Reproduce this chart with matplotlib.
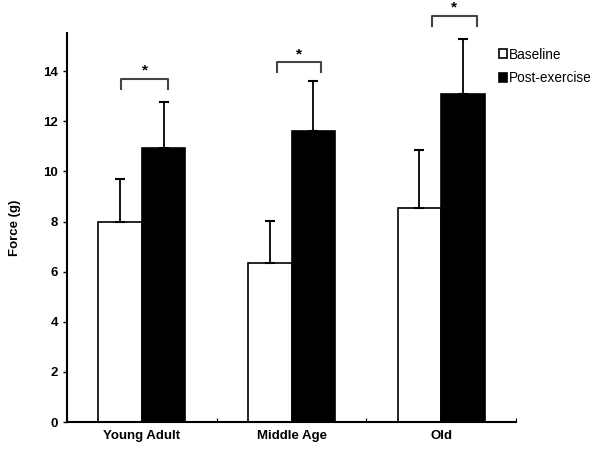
import matplotlib.pyplot as plt
import numpy as np

plt.rcParams['font.family'] = ['Liberation Sans', 'DejaVu Sans']

# data
groups = ['Young Adult', 'Middle Age', 'Old']
baseline = [7.98, 6.34, 8.52]
baseline_err = [1.70, 1.68, 2.32]
post = [10.95, 11.62, 13.08]
post_err = [1.83, 1.98, 2.21]
bracket_y = [13.7, 14.35, 16.2]
bracket_left = [-0.136, -0.094, -0.063]
bracket_right = [0.176, 0.195, 0.236]

x = np.arange(len(groups)) + 0.5
w = 0.29

fig = plt.figure(figsize=(6.01, 4.49), dpi=100)
ax = fig.add_axes([0.1115, 0.0601, 0.7471, 0.8669])

ax.bar(x - w / 2, baseline, w, color='white', edgecolor='black', linewidth=1.2, label='Baseline')
ax.bar(x + w / 2, post, w, color='black', edgecolor='black', linewidth=1.2, label='Post-exercise')
ax.errorbar(x - w / 2, baseline, yerr=[np.zeros(3), baseline_err], fmt='none',
            ecolor='black', elinewidth=1.3, capsize=3.5, capthick=1.5)
ax.errorbar(x + w / 2, post, yerr=[np.zeros(3), post_err], fmt='none',
            ecolor='black', elinewidth=1.3, capsize=3.5, capthick=1.5)

# significance brackets
for xi, by, bl, br in zip(x, bracket_y, bracket_left, bracket_right):
    x0, x1 = xi + bl, xi + br
    ax.plot([x0, x0, x1, x1], [by - 0.4, by, by, by - 0.4], color='#444444', lw=1.5,
            clip_on=False)
    ax.text((x0 + x1) / 2, by + 0.05, '*', ha='center', va='bottom', fontsize=11,
            fontweight='bold', clip_on=False)

ax.set_xlim(0, 3)
ax.set_ylim(0, 15.53)
ax.set_yticks(range(0, 15, 2))
ax.set_xticks([0, 1, 2, 3])
ax.set_xticklabels([])
ax.set_xticks(x, minor=True)
ax.set_xticklabels(groups, minor=True, fontsize=9.5, fontweight='bold')
ax.tick_params(axis='x', which='minor', length=0, pad=6)
ax.tick_params(axis='x', which='major', length=3, direction='in')
ax.tick_params(axis='y', length=3, labelsize=9.5, width=1)
for lab in ax.get_yticklabels():
    lab.set_fontweight('bold')
ax.set_ylabel('Force (g)', fontsize=9.5, fontweight='bold', labelpad=16)

for s in ['top', 'right']:
    ax.spines[s].set_visible(False)
for s in ['left', 'bottom']:
    ax.spines[s].set_linewidth(1.5)

ax.legend(loc='upper left', bbox_to_anchor=(0.962, 0.962), frameon=False, fontsize=9.8,
          handlelength=0.6, handleheight=0.6, handletextpad=0.15, labelspacing=0.7,
          borderaxespad=0, borderpad=0)

fig.savefig('out.png', dpi=100)
